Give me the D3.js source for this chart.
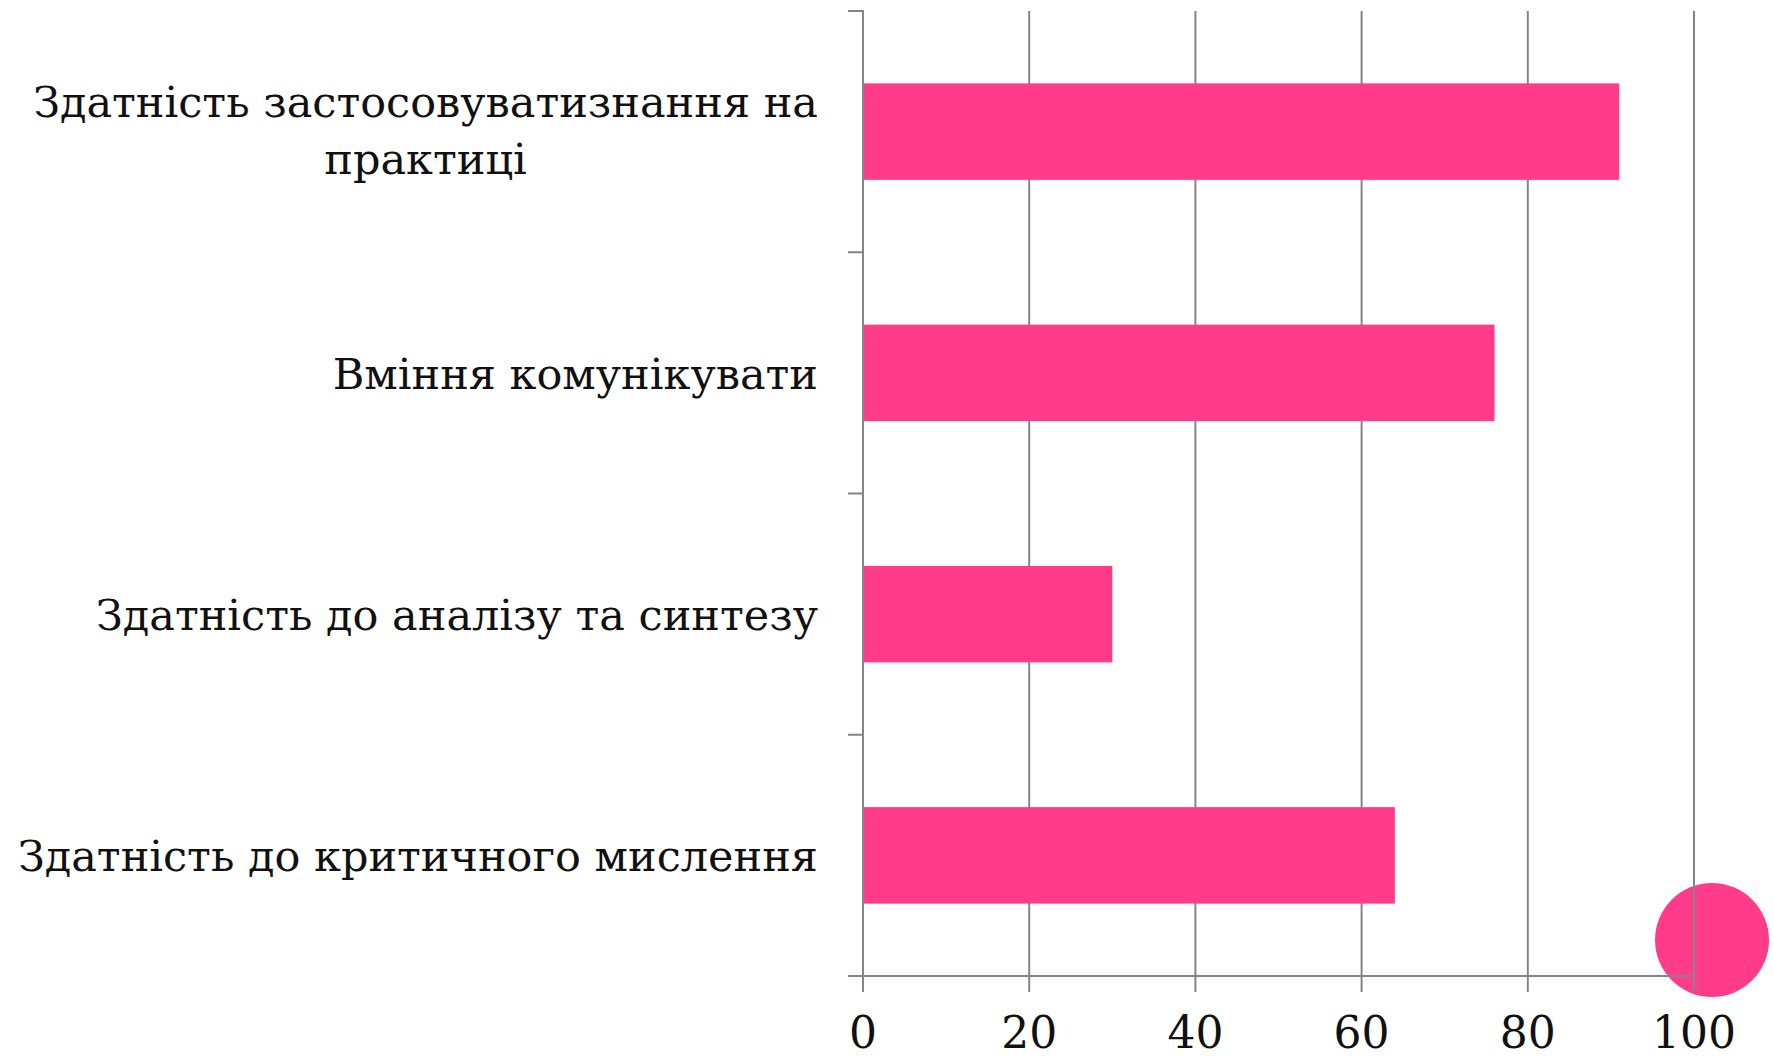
<!DOCTYPE html>
<html>
<head>
<meta charset="utf-8">
<script src="https://cdn.jsdelivr.net/npm/d3@7"></script>
<style>
  body { margin: 0; background: #fff; }
</style>
</head>
<body>
<script>
const categories = [
  ["Здатність застосовуватизнання на", "практиці"],
  ["Вміння комунікувати"],
  ["Здатність до аналізу та синтезу"],
  ["Здатність до критичного мислення"]
];
const values = [91, 76, 30, 64];
const xTicks = [0, 20, 40, 60, 80, 100];

const w = 1774;
const h = 1060;
const barColor = "#ff3b8a";
const gridColor = "#858585";
const font = "'DejaVu Serif', serif";

const svg = d3.select("body").append("svg").attr("width", w).attr("height", h);

const x = d3.scaleLinear().domain([0, 100]).range([863, 1694]);
const y = d3
  .scaleBand()
  .domain(d3.range(categories.length))
  .range([11, 976])
  .paddingInner(0.6)
  .paddingOuter(0.3);

// decorative dot at the bottom right corner
svg
  .append("circle")
  .attr("cx", x(100) + 18)
  .attr("cy", 940)
  .attr("r", 57)
  .attr("fill", barColor);

// vertical grid lines + ticks below the axis
svg
  .append("g")
  .selectAll("line")
  .data(xTicks)
  .enter()
  .append("line")
  .attr("x1", (d) => x(d))
  .attr("x2", (d) => x(d))
  .attr("y1", 11)
  .attr("y2", 992)
  .attr("stroke", gridColor)
  .attr("stroke-width", 2);

svg
  .selectAll("rect")
  .data(values)
  .enter()
  .append("rect")
  .attr("x", x(0))
  .attr("y", (d, i) => y(i))
  .attr("width", (d) => x(d) - x(0))
  .attr("height", y.bandwidth())
  .attr("fill", barColor);

// axis lines
svg
  .append("line")
  .attr("x1", x(0))
  .attr("x2", x(0))
  .attr("y1", 10)
  .attr("y2", 976)
  .attr("stroke", gridColor)
  .attr("stroke-width", 2);

svg
  .append("line")
  .attr("x1", x(0) - 15)
  .attr("x2", x(100))
  .attr("y1", 976)
  .attr("y2", 976)
  .attr("stroke", gridColor)
  .attr("stroke-width", 2);

// category boundary ticks on the left of the y axis
const bounds = d3.range(categories.length + 1).map((i) => 11 + i * y.step());
svg
  .append("g")
  .selectAll("line")
  .data(bounds)
  .enter()
  .append("line")
  .attr("x1", x(0) - 15)
  .attr("x2", x(0))
  .attr("y1", (d) => d)
  .attr("y2", (d) => d)
  .attr("stroke", gridColor)
  .attr("stroke-width", 2);

// x tick labels
svg
  .append("g")
  .selectAll("text")
  .data(xTicks)
  .enter()
  .append("text")
  .attr("x", (d) => x(d))
  .attr("y", 1048)
  .attr("text-anchor", "middle")
  .attr("font-family", font)
  .attr("font-size", 44)
  .attr("fill", "#111")
  .text((d) => d);

// category labels, right aligned block, lines centred on each other
const labelRight = 818;
categories.forEach((lines, i) => {
  const cy = y(i) + y.bandwidth() / 2;
  const lh = 57;
  const g = svg.append("g");
  const texts = g
    .selectAll("text")
    .data(lines)
    .enter()
    .append("text")
    .attr("font-family", font)
    .attr("font-size", 43)
    .attr("fill", "#111")
    .attr("text-anchor", "middle")
    .attr("y", (d, j) => cy + 16 + (j - (lines.length - 1) / 2) * lh - (lines.length > 1 ? 2 : 0))
    .text((d) => d);
  const maxW = d3.max(texts.nodes(), (n) => n.getComputedTextLength());
  texts.attr("x", labelRight - maxW / 2);
});
</script>
</body>
</html>
